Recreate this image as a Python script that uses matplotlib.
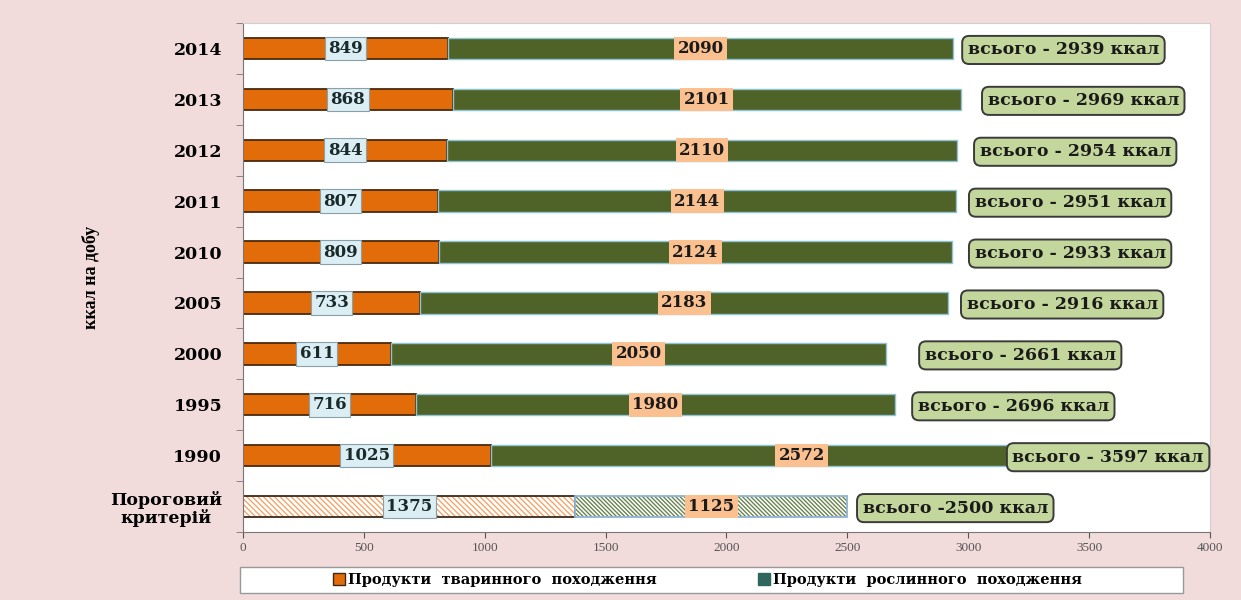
import matplotlib.pyplot as plt
from matplotlib.patches import Patch, Rectangle

categories = ["Пороговий\nкритерій", "1990", "1995", "2000", "2005", "2010", "2011", "2012", "2013", "2014"]
animal = [1375, 1025, 716, 611, 733, 809, 807, 844, 868, 849]
plant = [1125, 2572, 1980, 2050, 2183, 2124, 2144, 2110, 2101, 2090]
totals = [2500, 3597, 2696, 2661, 2916, 2933, 2951, 2954, 2969, 2939]
total_text = ["всього -2500 ккал"] + ["всього - %d ккал" % t for t in totals[1:]]
# left edge of each "total" box (data units), as placed in the original
total_label_x = [2523, 3143, 2751, 2780, 2953, 2986, 2986, 3007, 3040, 2958]

ORANGE = "#e36c0a"
GREEN = "#4f6228"
SERIF = "Liberation Serif"
WIDE = "DejaVu Serif"   # the original text looks stretched sideways


def main():
    plt.rcParams['font.family'] = SERIF
    plt.rcParams['hatch.linewidth'] = 1.0

    fig = plt.figure(figsize=(12.41, 6), dpi=100, facecolor="#f2dcdb")
    ax = fig.add_axes([0.1958, 0.1133, 0.7792, 0.8484])
    ax.set_facecolor("white")

    ys = list(range(len(categories)))
    h = 0.42

    for i, y in enumerate(ys):
        a, p = animal[i], plant[i]
        if i == 0:
            # threshold row: hatched
            ax.barh(y, a, height=h, color="white", edgecolor="#f3a56b", hatch="\\" * 6, lw=0)
            ax.barh(y, a, height=h, fill=False, edgecolor="#3b2a1a", lw=1.3)
            ax.barh(y, p, left=a, height=h, color="white", edgecolor="#6a8450", hatch="\\" * 8, lw=0)
            ax.barh(y, p, left=a, height=h, fill=False, edgecolor="#8fb4d6", lw=1.3)
        else:
            ax.barh(y, a, height=h, color=ORANGE, edgecolor="#4a2a0a", lw=1.3)
            ax.barh(y, p, left=a, height=h, color=GREEN, edgecolor="#8fc3d6", lw=1.0)

        ax.text(a / 2, y, str(a), ha="center", va="center", fontsize=12, fontweight="bold",
                family=WIDE, color="#1a2a2a",
                bbox=dict(boxstyle="square,pad=0.2", fc="#dbeef3", ec="#8aa0a8", lw=0.8))
        ax.text(a + p / 2, y, str(p), ha="center", va="center", fontsize=12, fontweight="bold",
                family=WIDE, color="#1a1a1a",
                bbox=dict(boxstyle="square,pad=0.2", fc="#fac090", ec="none"))
        ax.text(total_label_x[i] + 40, y - 0.03, total_text[i], ha="left", va="center", fontsize=12.5,
                fontweight="bold", family=WIDE, color="#1a1a1a", clip_on=False,
                bbox=dict(boxstyle="round,pad=0.32,rounding_size=0.4", fc="#c3d69b", ec="#3a3a3a", lw=1.4))

    ax.set_xlim(0, 4000)
    ax.set_ylim(-0.5, 9.5)
    ax.set_xticks(range(0, 4001, 500))
    ax.tick_params(axis="x", labelsize=9.5, colors="#555555", length=4, direction="out")
    ax.set_yticks(ys)
    ax.set_yticklabels(categories, fontsize=12.5, fontweight="bold", family=WIDE,
                       linespacing=1.05, multialignment="center")
    ax.tick_params(axis="y", length=0, pad=15)
    ax.set_yticks([y + 0.5 for y in ys[:-1]] + [-0.5, 9.5], minor=True)
    ax.tick_params(axis="y", which="minor", length=5, color="#777777")
    ax.set_ylabel("ккал на добу", fontsize=13, fontweight="bold")
    ax.yaxis.set_label_coords(-0.148, 0.5)

    ax.spines["left"].set_color("#777777")
    ax.spines["bottom"].set_color("#777777")
    ax.spines["top"].set_color("#cfcfcf")
    ax.spines["right"].set_color("#cfcfcf")

    # legend box, with one entry on each side
    fig.add_artist(Rectangle((240 / 1241, 1 - 593 / 600), 943 / 1241, 26 / 600,
                             transform=fig.transFigure, fc="white", ec="#999999", lw=1.0))
    entries = [(Patch(fc=ORANGE, ec="#3b2a1a"), "Продукти  тваринного  походження", 333),
               (Patch(fc="#31665e", ec="#31665e"), "Продукти  рослинного  походження", 758)]
    for handle, label, xpix in entries:
        fig.legend([handle], [label], loc="center left",
                   bbox_to_anchor=(xpix / 1241, 1 - 580 / 600),
                   prop=dict(family=WIDE, weight="bold", size=10.5),
                   handlelength=0.8, handleheight=0.8, handletextpad=0.2,
                   frameon=False, borderaxespad=0, borderpad=0)

    fig.savefig("out.png", dpi=100, facecolor=fig.get_facecolor())


if __name__ == "__main__":
    main()
